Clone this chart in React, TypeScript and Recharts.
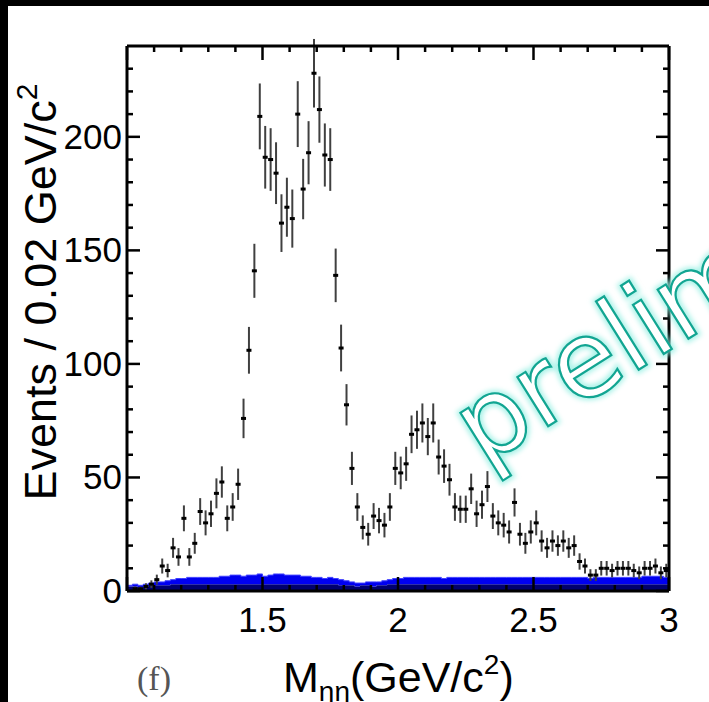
import React from 'react';
import { ComposedChart, Area, Scatter, ErrorBar, XAxis, YAxis } from 'recharts';

// M(eta eta) spectrum, 0.02 GeV/c^2 bins from 1.0 to 3.0
const BIN_LOW = 1.0;
const BIN_WIDTH = 0.02;

const counts = [
  0, 1, 1, 2, 3, 5, 11, 9, 19, 15,
  32, 15, 21, 35, 30, 34, 43, 48, 32, 37,
  47, 76, 106, 141, 209, 191, 190, 184, 162, 169,
  164, 210, 177, 193, 228, 212, 192, 190, 139, 107,
  82, 54, 37, 28, 25, 33, 31, 29, 37, 54,
  52, 56, 69, 71, 74, 68, 74, 59, 55, 49,
  37, 36, 36, 45, 34, 38, 46, 33, 30, 29,
  26, 39, 25, 21, 26, 30, 22, 19, 22, 20,
  22, 19, 20, 13, 11, 7, 7, 10, 10, 9,
  10, 10, 10, 9, 8, 10, 10, 11, 8, 9,
];

const errors = [
  0, 1, 1, 1.4, 1.7, 2.2, 3.3, 3, 4.4, 3.9,
  5.7, 3.9, 4.6, 5.9, 5.5, 5.8, 6.6, 6.9, 5.7, 6.1,
  6.9, 8.7, 10.3, 11.9, 14.5, 13.8, 13.8, 13.6, 12.7, 13,
  12.8, 14.5, 13.3, 13.9, 15.1, 14.6, 13.9, 13.8, 11.8, 10.3,
  9.1, 7.3, 6.1, 5.3, 5, 5.7, 5.6, 5.4, 6.1, 7.3,
  7.2, 7.5, 8.3, 8.4, 8.6, 8.2, 8.6, 7.7, 7.4, 7,
  6.1, 6, 6, 6.7, 5.8, 6.2, 6.8, 5.7, 5.5, 5.4,
  5.1, 6.2, 5, 4.6, 5.1, 5.5, 4.7, 4.4, 4.7, 4.5,
  4.7, 4.4, 4.5, 3.6, 3.3, 2.6, 2.6, 3.2, 3.2, 3,
  3.2, 3.2, 3.2, 3, 2.8, 3.2, 3.2, 3.3, 2.8, 3,
];

// background estimate, two stacked components
const bkgDark = [
  2, 2, 1.5, 2, 2.5, 2.5, 2.5, 2.5, 3, 3,
  3, 3, 3, 3, 3, 3, 3, 3, 3, 3,
  3, 3, 3, 3, 3, 3, 3, 3, 3, 3,
  3, 3, 3, 3, 3, 3, 3, 3, 3, 2.5,
  2.5, 2.5, 2, 2.5, 2.5, 2, 2.5, 2.5, 3, 3,
  3, 3, 3, 3, 3, 3, 3, 3, 3, 3,
  3, 3, 3, 3, 3, 3, 3, 3, 3, 3,
  3, 3, 3, 3, 3, 3, 3, 3, 3, 3,
  3, 3, 3, 3, 3, 3, 3, 3, 3, 3,
  3, 3, 3, 3, 3, 3, 3, 3, 3, 3,
];

const bkgBlue = [
  0.5, 1, 1, 1, 1, 1.5, 1.5, 2, 2, 2.5,
  2.5, 3, 3, 3, 3, 3, 3, 3.5, 3.5, 4,
  4, 3.5, 4, 4, 4.5, 3.5, 4, 4.5, 4.5, 4,
  4, 4, 3.5, 3.5, 3, 3, 2.5, 3, 2.5, 2.5,
  2, 1.5, 1.5, 1, 1.5, 2, 1.5, 2, 2, 2.5,
  2.5, 3, 3, 3, 3, 3, 3, 3, 2.5, 3,
  3, 3, 3, 3, 3, 3, 3, 3, 3, 3,
  3, 3, 3, 3, 3, 3, 3, 3, 3, 3,
  3, 3, 3, 3, 3, 2.5, 3, 3, 3, 3,
  3, 3, 3, 3, 3, 3.5, 3.5, 3.5, 3.5, 3,
];

const xTicks = [
  1.0, 1.1, 1.2, 1.3, 1.4, 1.5, 1.6, 1.7, 1.8, 1.9, 2.0,
  2.1, 2.2, 2.3, 2.4, 2.5, 2.6, 2.7, 2.8, 2.9, 3.0,
];
const xLabelled = [1.5, 2.0, 2.5, 3.0];
const yTicks = [
  0, 10, 20, 30, 40, 50, 60, 70, 80, 90, 100, 110,
  120, 130, 140, 150, 160, 170, 180, 190, 200, 210, 220, 230,
];
const yLabelled = [0, 50, 100, 150, 200];

const binCenter = (i: number) => +(BIN_LOW + BIN_WIDTH * (i + 0.5)).toFixed(3);

const bkgRows = [
  { x: BIN_LOW, dark: bkgDark[0], blue: bkgBlue[0] },
  ...counts.map((_, i) => ({ x: binCenter(i), dark: bkgDark[i], blue: bkgBlue[i] })),
  { x: 3.0, dark: bkgDark[bkgDark.length - 1], blue: bkgBlue[bkgBlue.length - 1] },
];

const pointRows = counts
  .map((n, i) => ({ x: binCenter(i), y: n, err: errors[i] }))
  .filter((r) => r.y > 0);

const FONT = '"Liberation Sans", Arial, Helvetica, sans-serif';
const TICK_W = 2.5;
const TICK_FONT = 35;

const isMajorY = (v: number) => yLabelled.includes(v);
const isMajorX = (v: number) => Math.abs(v * 2 - Math.round(v * 2)) < 1e-6;

const LeftTick = (props: any) => {
  const { x, y, payload } = props;
  const major = isMajorY(payload.value);
  return (
    <g>
      <line x1={x} x2={x + (major ? 13 : 6)} y1={y} y2={y} stroke="#000" strokeWidth={TICK_W} />
      {major && (
        <text x={x - 5} y={y + 12} textAnchor="end" fontSize={TICK_FONT} fontFamily={FONT} fill="#000">
          {payload.value}
        </text>
      )}
    </g>
  );
};

const RightTick = (props: any) => {
  const { x, y, payload } = props;
  const major = isMajorY(payload.value);
  return <line x1={x} x2={x - (major ? 13 : 6)} y1={y} y2={y} stroke="#000" strokeWidth={TICK_W} />;
};

const BottomTick = (props: any) => {
  const { x, y, payload } = props;
  const v = payload.value;
  const major = isMajorX(v);
  const labelled = xLabelled.some((l) => Math.abs(l - v) < 1e-6);
  return (
    <g>
      <line x1={x} x2={x} y1={y} y2={y - (major ? 14 : 6)} stroke="#000" strokeWidth={TICK_W} />
      {labelled && (
        <text x={x} y={y + 41} textAnchor="middle" fontSize={TICK_FONT} fontFamily={FONT} fill="#000">
          {Number.isInteger(v) ? String(v) : v.toFixed(1)}
        </text>
      )}
    </g>
  );
};

const TopTick = (props: any) => {
  const { x, y, payload } = props;
  const major = isMajorX(payload.value);
  return <line x1={x} x2={x} y1={y} y2={y + (major ? 14 : 6)} stroke="#000" strokeWidth={TICK_W} />;
};

const Marker = (props: any) => {
  const { cx, cy } = props;
  if (cx == null || cy == null) return null;
  return <rect x={cx - 2.5} y={cy - 1.5} width={5} height={3} fill="#000" />;
};

export default function App() {
  return (
    <div
      style={{
        position: 'absolute',
        left: 0,
        top: 0,
        width: 709,
        height: 702,
        background: '#fff',
        overflow: 'hidden',
      }}
    >
      <div style={{ position: 'absolute', left: 0, top: 0, width: 709, height: 6, background: '#000' }} />
      <div style={{ position: 'absolute', left: 0, top: 0, width: 8, height: 702, background: '#000' }} />

      <div style={{ position: 'absolute', left: 0, top: 0 }}>
        <ComposedChart
          width={709}
          height={702}
          data={bkgRows}
          margin={{ top: 45, left: 126, right: 39, bottom: 110 }}
        >
          <XAxis
            dataKey="x"
            type="number"
            domain={[1, 3]}
            ticks={xTicks}
            interval={0}
            height={1}
            tickSize={0}
            tickMargin={0}
            tickLine={false}
            tick={<BottomTick />}
            axisLine={{ stroke: '#000', strokeWidth: 3 }}
            allowDataOverflow
          />
          <XAxis
            xAxisId="top"
            orientation="top"
            dataKey="x"
            type="number"
            domain={[1, 3]}
            ticks={xTicks}
            interval={0}
            height={1}
            tickSize={0}
            tickMargin={0}
            tickLine={false}
            tick={<TopTick />}
            axisLine={{ stroke: '#000', strokeWidth: 3 }}
            allowDataOverflow
          />
          <YAxis
            type="number"
            domain={[0, 240]}
            ticks={yTicks}
            interval={0}
            width={1}
            tickSize={0}
            tickMargin={0}
            tickLine={false}
            tick={<LeftTick />}
            axisLine={{ stroke: '#000', strokeWidth: 3 }}
            allowDataOverflow
          />
          <YAxis
            yAxisId="r"
            orientation="right"
            type="number"
            domain={[0, 240]}
            ticks={yTicks}
            interval={0}
            width={1}
            tickSize={0}
            tickMargin={0}
            tickLine={false}
            tick={<RightTick />}
            axisLine={{ stroke: '#000', strokeWidth: 3 }}
            allowDataOverflow
          />
          <Area
            type="step"
            dataKey="dark"
            stackId="bkg"
            stroke="none"
            fill="#000070"
            fillOpacity={1}
            isAnimationActive={false}
          />
          <Area
            type="step"
            dataKey="blue"
            stackId="bkg"
            stroke="#4040ff"
            strokeWidth={1}
            fill="#0000f0"
            fillOpacity={1}
            isAnimationActive={false}
          />
          <Scatter data={pointRows} dataKey="y" shape={<Marker />} isAnimationActive={false}>
            <ErrorBar dataKey="err" direction="y" width={0} stroke="#404040" strokeWidth={2} />
          </Scatter>
        </ComposedChart>
      </div>

      <svg
        width={709}
        height={702}
        style={{ position: 'absolute', left: 0, top: 0, pointerEvents: 'none' }}
      >
        <defs>
          <filter id="glow" x="-20%" y="-50%" width="140%" height="200%">
            <feGaussianBlur stdDeviation="2.5" />
          </filter>
        </defs>
        <g transform="translate(483,467) rotate(-32)">
          <text
            x={0}
            y={0}
            fontSize={106}
            fontFamily='"DejaVu Sans", Verdana, sans-serif'
            fill="none"
            stroke="#8eeee0"
            strokeOpacity={0.75}
            strokeWidth={7}
            filter="url(#glow)"
          >
            preliminary
          </text>
          <text
            x={0}
            y={0}
            fontSize={106}
            fontFamily='"DejaVu Sans", Verdana, sans-serif'
            fill="#ffffff"
            stroke="#12a592"
            strokeWidth={2.2}
          >
            preliminary
          </text>
        </g>

        <text
          transform="translate(56,292) rotate(-90)"
          textAnchor="middle"
          fontSize={45}
          fontFamily={FONT}
          fill="#000"
        >
          Events / 0.02 GeV/c
          <tspan fontSize={30} dy={-19}>2</tspan>
        </text>

        <text x={137} y={690} fontSize={34} fontFamily='"Liberation Serif", "Times New Roman", serif' fill="#555">
          (f)
        </text>

        <text x={283} y={692} fontSize={43} fontFamily={FONT} fill="#000">
          M
          <tspan fontSize={28} dy={9}>ηη</tspan>
          <tspan dy={-9}>(GeV/c</tspan>
          <tspan fontSize={28} dy={-18}>2</tspan>
          <tspan dy={18}>)</tspan>
        </text>
      </svg>
    </div>
  );
}
